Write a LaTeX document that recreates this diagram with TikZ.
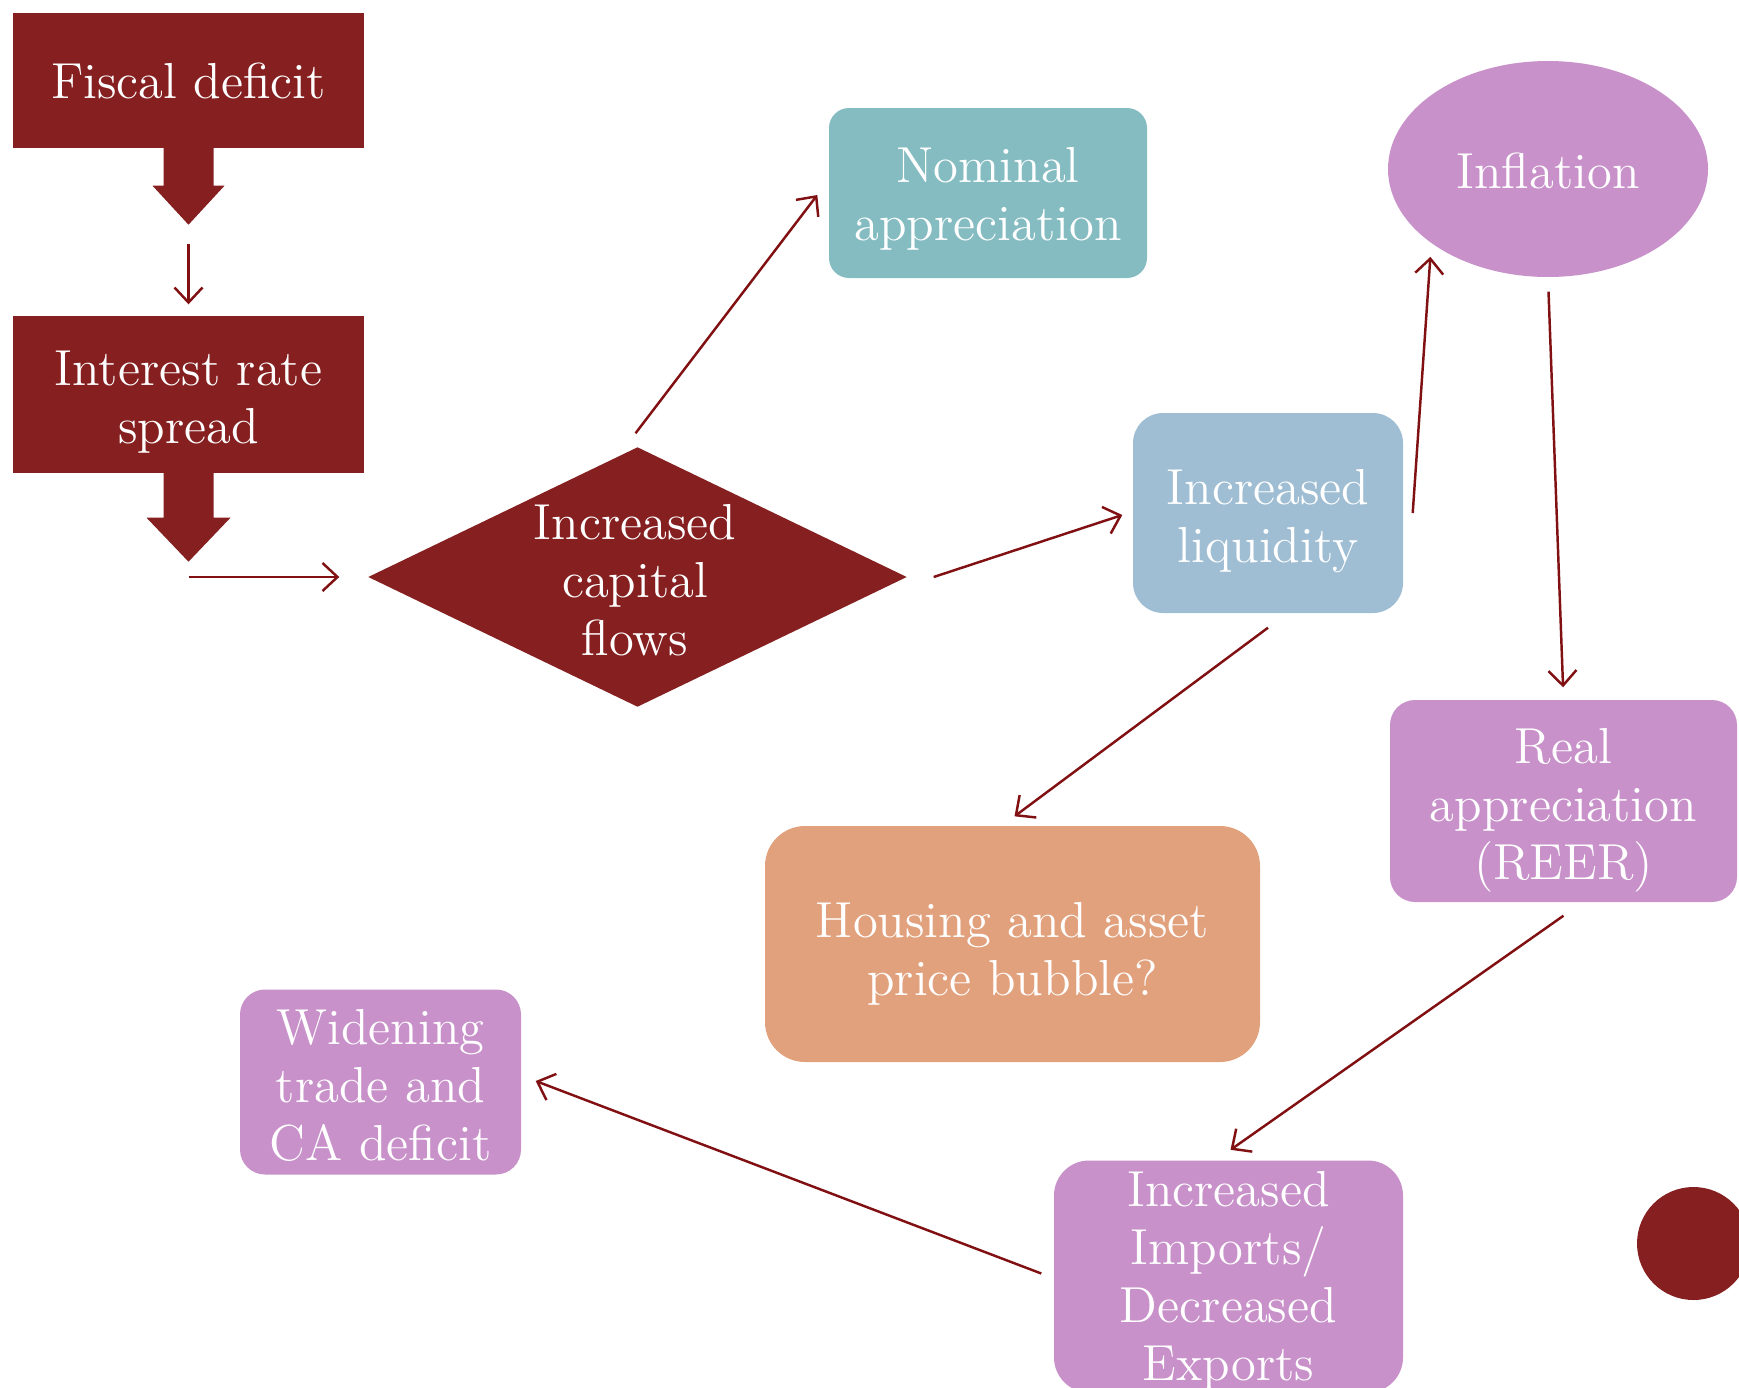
\documentclass[tikz,border=0pt]{standalone}
\usetikzlibrary{shapes.geometric,arrows.meta,calc}
\definecolor{dred}{RGB}{133,31,32}
\definecolor{aline}{RGB}{128,16,18}
\definecolor{teal1}{RGB}{132,188,193}
\definecolor{lblue}{RGB}{159,190,211}
\definecolor{purp}{RGB}{200,145,202}
\definecolor{orng}{RGB}{226,161,125}
\newcommand\mylines[2]{\raisebox{-#1}[\height][\depth]{\begin{tabular}{@{}c@{}}#2\end{tabular}}}
\begin{document}
\begin{tikzpicture}[x=0.1mm,y=-0.1mm,
  box/.style={rectangle, inner sep=0pt, text=white, align=center,
    font=\fontsize{14.4}{16.5}\selectfont},
  txt/.style={inner sep=0pt, text=white, align=center,
    font=\fontsize{14.4}{16.5}\selectfont},
  arr/.style={draw=aline, line width=0.7pt, -{Straight Barb[length=1.5mm,width=2.8mm]}}]
\useasboundingbox (0,0) rectangle (1739,1387);

% boxes
\node[box, fill=dred, minimum width=35.1mm, minimum height=13.5mm] (fis) at (188.5,80.5) {Fiscal deficit};
\node[box, fill=dred, minimum width=35.1mm, minimum height=15.7mm] (int) at (188.5,394.5) {\mylines{2.5pt}{Interest rate\\spread}};
\node[diamond, fill=dred, inner sep=0pt, minimum width=53.9mm, minimum height=26mm] (diam) at (637.5,577) {};
\node[txt] (diamtext) at (635,580) {Increased\\capital\\flows};
\node[box, fill=teal1, rounded corners=2mm, minimum width=31.8mm, minimum height=17mm] (nom) at (988,193) {\mylines{2.05pt}{Nominal\\appreciation}};
\node[ellipse, fill=purp, inner sep=0pt, text=white, font=\fontsize{14.4}{16.5}\selectfont, minimum width=32mm, minimum height=21.6mm] (infl) at (1548,169) {\raisebox{-0.6pt}[\height][\depth]{Inflation}};
\node[box, fill=lblue, rounded corners=3mm, minimum width=27mm, minimum height=20mm] (liq) at (1268,513) {\mylines{2.4pt}{Increased\\liquidity}};
\node[box, fill=purp, rounded corners=2.5mm, minimum width=34.7mm, minimum height=20.2mm] (real) at (1563.5,801) {\mylines{2.6pt}{Real\\appreciation\\(REER)}};
\node[box, fill=orng, rounded corners=4mm, minimum width=49.5mm, minimum height=23.6mm] (hous) at (1012.5,944) {\mylines{3pt}{Housing and asset\\price bubble?}};
\node[box, fill=purp, rounded corners=2.5mm, minimum width=28.1mm, minimum height=18.5mm] (wid) at (380.5,1082) {\mylines{2.4pt}{Widening\\trade and\\CA deficit}};
\node[box, fill=purp, rounded corners=3.5mm, minimum width=34.9mm, minimum height=22.7mm] (imp) at (1228.5,1276.5) {\mylines{1.5pt}{Increased\\Imports/\\Decreased\\Exports}};
\node[circle, fill=dred, inner sep=0pt, minimum size=11.3mm] (dot) at (1693.5,1243.5) {};

% block arrows below the red boxes
\fill[dred, shift={(fis.south)}] (-25,-1) -- (-25,37) -- (-36,37) -- (0,76) -- (36,37) -- (25,37) -- (25,-1) -- cycle;
\fill[dred, shift={(int.south)}] (-25,-1) -- (-25,44) -- (-42,44) -- (0,88) -- (42,44) -- (25,44) -- (25,-1) -- cycle;

% connectors
\draw[arr, shorten <=9.5mm, shorten >=1.1mm] (fis.south) -- (int.north);
\draw[arr, shorten >=2.8mm] (int.south |- diam.west) -- (diam.west);
\draw[arr] ($(diam.north)+(-2,-13)$) -- ($(nom.west)+(-11,2)$);
\draw[arr] ($(diam.east)+(26,0)$) -- ($(liq.west)+(-10,2)$);
\draw[arr] ($(liq.east)+(9,0)$) -- ($(infl.south west)+(-4,11)$);
\draw[arr, shorten <=1.4mm, shorten >=1.2mm] (infl.south) -- (real.north);
\draw[arr] ($(liq.south)+(0,14)$) -- ($(hous.north)+(2,-9)$);
\draw[arr] ($(real.south)+(0,13)$) -- ($(imp.north)+(2,-10)$);
\draw[arr] ($(imp.west)+(-12,-3)$) -- ($(wid.east)+(14,-1)$);
\end{tikzpicture}
\end{document}
